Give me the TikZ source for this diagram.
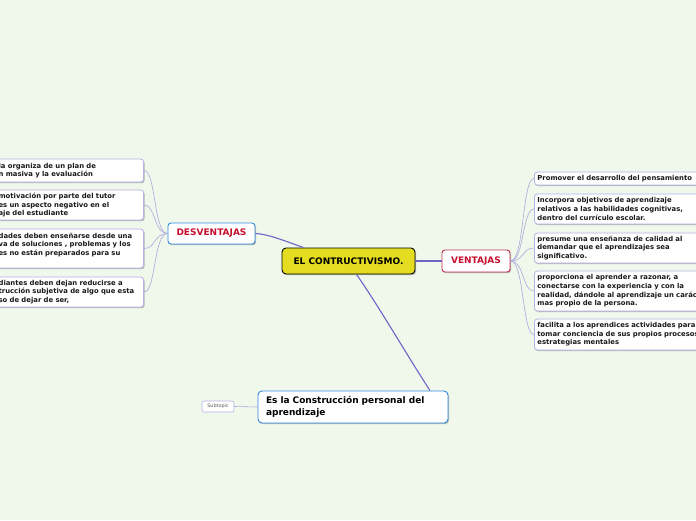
\documentclass[tikz,border=0pt]{standalone}
\usepackage{fontspec}
\setmainfont{DejaVu Sans}
\usetikzlibrary{shadows,calc}
\definecolor{bg}{RGB}{240,248,236}
\definecolor{lav}{RGB}{180,178,230}
\definecolor{lline}{RGB}{170,168,220}
\definecolor{mline}{RGB}{110,100,200}
\definecolor{ctrfill}{RGB}{228,220,32}
\definecolor{redtxt}{RGB}{200,16,46}
\definecolor{bluebd}{RGB}{50,138,222}
\definecolor{redbd}{RGB}{192,48,80}
\definecolor{subtxt}{RGB}{90,90,90}
\tikzset{
  shad/.style={drop shadow={shadow xshift=1pt,shadow yshift=-1.2pt,opacity=0.25,fill=black}},
  leaf/.style={shad,draw=lav,fill=white,line width=0.8pt,rounded corners=3pt,
    text width=142pt,align=left,inner xsep=3pt,inner ysep=2pt,
    font=\fontsize{6.85}{8.6}\selectfont\bfseries,text=black!90},
  topic/.style={shad,fill=white,line width=0.9pt,rounded corners=3pt,
    font=\fontsize{9}{10}\selectfont\bfseries,text=redtxt,inner sep=2pt},
  thin/.style={draw=lline,line width=0.6pt},
  thick/.style={draw=mline,line width=1.1pt}
}
\begin{document}
\begin{tikzpicture}[x=1pt,y=-1pt]
\fill[bg] (0,0) rectangle (696,520);
\useasboundingbox (0,0) rectangle (696,520);
\clip (0,0) rectangle (696,520);

% central
\node[shad,draw=black,fill=ctrfill,line width=0.9pt,rounded corners=4pt,
  minimum width=133pt,minimum height=26pt,font=\fontsize{9}{10}\selectfont\bfseries]
  (main) at (348.5,261) {EL CONTRUCTIVISMO.};
\node[topic,draw=bluebd,minimum width=87pt,minimum height=21pt] (des) at (211.5,233.5) {DESVENTAJAS};
\node[topic,draw=redbd,minimum width=68pt,minimum height=22pt] (ven) at (476,261) {VENTAJAS};
\node[shad,draw=bluebd,fill=white,line width=0.9pt,rounded corners=4pt,
  minimum width=190pt,minimum height=32pt,text width=174pt,align=left,
  font=\fontsize{9}{12}\selectfont\bfseries] (bot) at (353,407)
  {Es la Construcción personal del\\aprendizaje};
\node[draw=lav,fill=white,line width=0.6pt,rounded corners=2pt,minimum width=32pt,
  minimum height=11pt,inner sep=1pt,font=\fontsize{4.9}{5}\selectfont,text=subtxt]
  (sub) at (218,406.5) {Subtopic};

% left leaves
\node[leaf,anchor=east,minimum height=23pt] (l1) at (144,170.5)
  {la organiza de un plan de\\n masiva y la evaluación};
\node[leaf,anchor=east,minimum height=30pt] (l2) at (144,205)
  {motivación por parte del tutor\\es un aspecto negativo en el\\aje del estudiante};
\node[leaf,anchor=east,minimum height=39pt] (l3) at (144,248.5)
  {dades deben enseñarse desde una\\va de soluciones , problemas y los\\es no están preparados para su\\~};
\node[leaf,anchor=east,minimum height=30pt] (l4) at (144,292)
  {diantes deben dejan reducirse a\\trucción subjetiva de algo que esta\\so de dejar de ser,};

% right leaves
\node[leaf,anchor=west,text width=200pt,minimum height=13pt] (r1) at (534,178.5)
  {Promover el desarrollo del pensamiento};
\node[leaf,anchor=west,text width=200pt,minimum height=30pt] (r2) at (534,209)
  {Incorpora objetivos de aprendizaje\\relativos a las habilidades cognitivas,\\dentro del currículo escolar.};
\node[leaf,anchor=west,text width=200pt,minimum height=30pt] (r3) at (534,248)
  {presume una enseñanza de calidad al\\demandar que el aprendizajes sea\\significativo.};
\node[leaf,anchor=west,text width=200pt,minimum height=40pt] (r4) at (534,291)
  {proporciona el aprender a razonar, a\\conectarse con la experiencia y con la\\realidad, dándole al aprendizaje un carácter\\mas propio de la persona.};
\node[leaf,anchor=west,text width=200pt,minimum height=31pt] (r5) at (534,334.5)
  {facilita a los aprendices actividades para\\tomar conciencia de sus propios procesos\\estrategias mentales};

% main connectors
\coordinate (mdes) at ($(main.north west)+(22,0)$);
\draw[thick] (des.east) .. controls (268,234) and (285,241) .. (mdes);
\draw[thick] (main.east) -- (ven.west);
\coordinate (mbot) at ($(main.south)+(8,0)$);
\coordinate (bmain) at ($(bot.north)+(77,0)$);
\draw[thick] (mbot) .. controls (378,305) and (405,352) .. (bmain);
\draw[thin] (bot.west) -- (sub.east);

% fans
\foreach \n in {l1,l2,l3,l4}{
  \draw[thin] (des.west) .. controls ($(des.west)+(-14,0)$) and ($(\n.east)+(12,0)$) .. (\n.east);
}
\foreach \n in {r1,r2,r3,r4,r5}{
  \draw[thin] (ven.east) .. controls ($(ven.east)+(14,0)$) and ($(\n.west)+(-12,0)$) .. (\n.west);
}
\end{tikzpicture}
\end{document}
